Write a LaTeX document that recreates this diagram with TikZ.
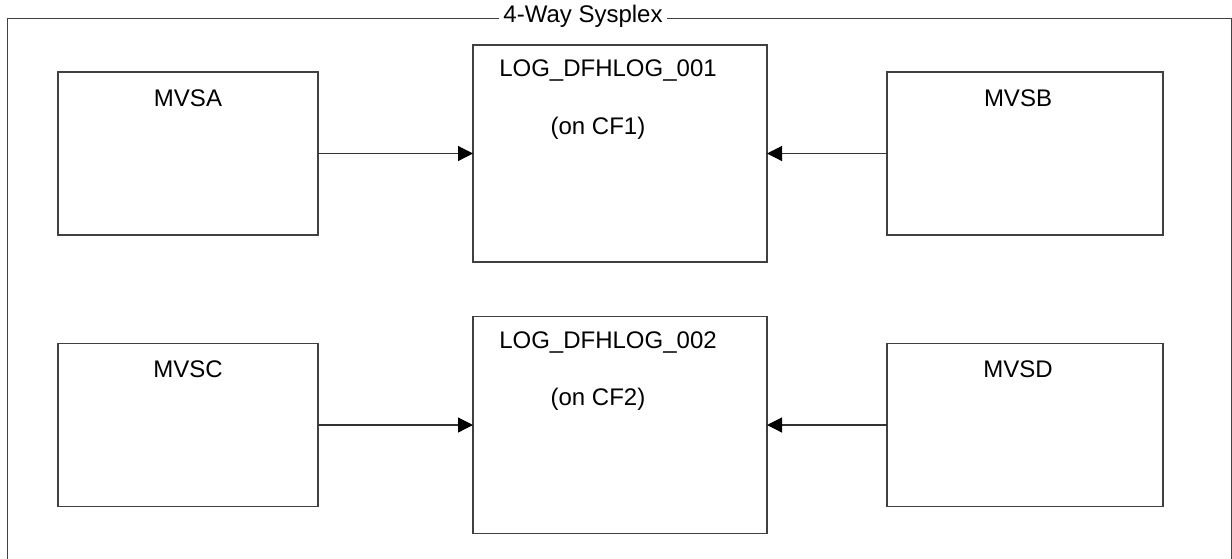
\documentclass[tikz,border=0pt]{standalone}
\usepackage{fontspec}
\setmainfont{Liberation Sans}
\usetikzlibrary{arrows.meta,positioning}
\tikzset{sysbox/.style={draw=black!75, line width=1.2pt, inner sep=0, outer sep=0, minimum width=260pt, minimum height=163pt}}
\tikzset{logbox/.style={sysbox, minimum width=294pt, minimum height=217pt}}
\tikzset{lbl/.style={inner sep=0, font=\fontsize{24}{28}\selectfont}}
\tikzset{arr/.style={draw=black!80, line width=1.2pt, -{Triangle[length=15pt,width=15pt,color=black]}}}
\newcommand\logtext[3]{
		\node[lbl] (#1-t) at ([xshift=-12pt, yshift=-26pt]#1.north) {#2};
		\node[lbl] (#1-cf) at ([xshift=-22pt, yshift=-83pt]#1.north) {#3};
	}

\begin{document}
\begin{tikzpicture}[x=1pt, y=-1pt]
    \useasboundingbox (0,0) rectangle (1232,558);
    \draw[black!75, line width=1pt] (7,570) -- (7,18) -- (1231,18) -- (1231,570);
    \node[lbl, fill=white, inner xsep=4.5pt, inner ysep=2pt] (plex) at (583,16) {4-Way Sysplex};

    \node[sysbox] (A) at (188,153.5) {};
    \node[logbox] (L1) at (620,153.5) {};
    \node[sysbox, minimum width=276pt] (B) at (1025,153.5) {};
    \node[sysbox] (C) at (188,425) {};
    \node[logbox] (L2) at (620,425) {};
    \node[sysbox, minimum width=276pt] (D) at (1025,425) {};

    \node[lbl] (A-t) at ([yshift=-26pt]A.north) {MVSA};
    \node[lbl] (B-t) at ([xshift=-7pt, yshift=-26pt]B.north) {MVSB};
    \node[lbl] (C-t) at ([yshift=-26pt]C.north) {MVSC};
    \node[lbl] (D-t) at ([xshift=-7pt, yshift=-26pt]D.north) {MVSD};
    \logtext{L1}{LOG\_DFHLOG\_001}{(on CF1)}
    \logtext{L2}{LOG\_DFHLOG\_002}{(on CF2)}

    \draw[arr] (A) -- (L1);
    \draw[arr] (B) -- (L1);
    \draw[arr] (C) -- (L2);
    \draw[arr] (D) -- (L2);
\end{tikzpicture}
\end{document}
